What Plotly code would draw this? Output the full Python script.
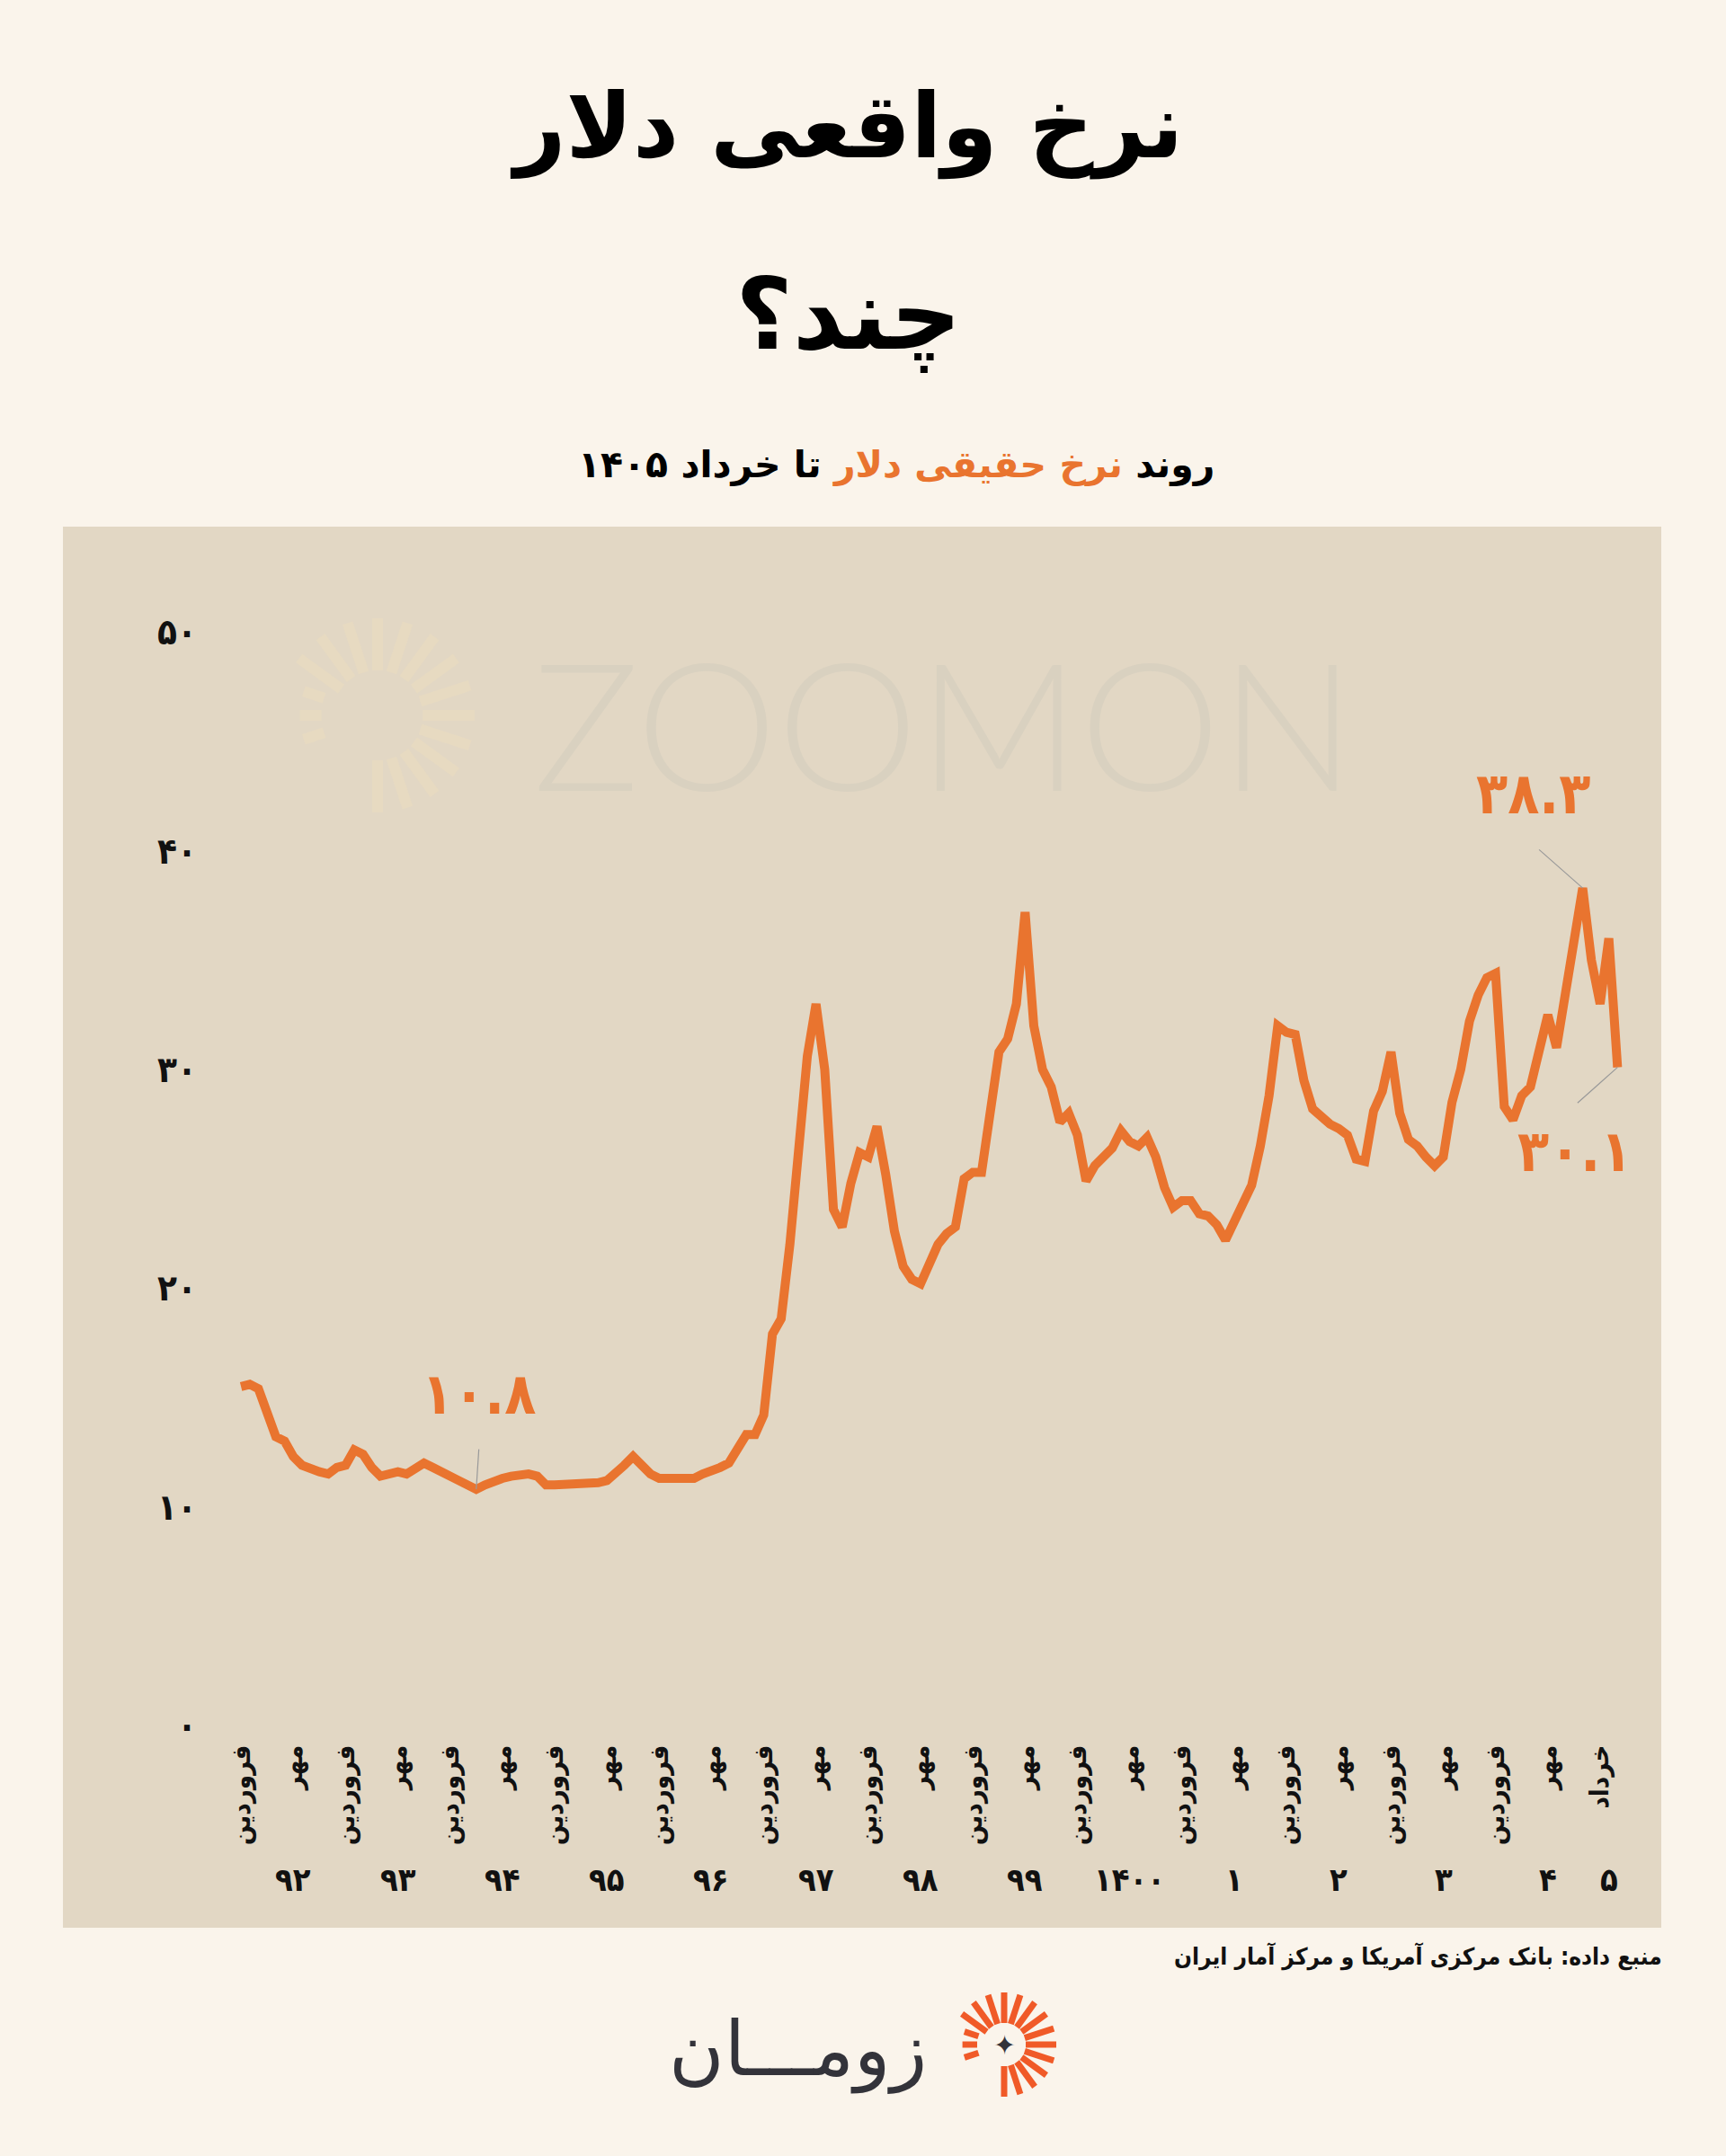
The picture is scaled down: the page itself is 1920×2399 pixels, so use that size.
import math
import plotly.graph_objects as go

# ---------------- data ----------------
months = list(range(159))  # فروردین ۹۲ ... خرداد ۱۴۰۵
values = [
    15.5, 15.6, 15.4, 14.4, 13.2, 13.0, 12.3, 11.9, 11.7, 11.6,
    11.5, 11.8, 11.9, 12.6, 12.4, 11.8, 11.4, 11.5, 11.6, 11.5,
    11.7, 12.0, 11.8, 11.6, 11.4, 11.3, 11.1, 10.8, 11.0, 11.2,
    11.3, 11.4, 11.5, 11.5, 11.4, 11.0, 11.0, 11.0, 11.0, 11.0,
    11.0, 11.1, 11.2, 11.5, 11.9, 12.3, 11.9, 11.5, 11.3, 11.3,
    11.2, 11.2, 11.3, 11.5, 11.6, 11.8, 12.0, 12.6, 13.3, 13.3,
    14.2, 17.9, 18.6, 22.0, 26.2, 30.6, 33.0, 30.0, 23.6, 22.8,
    24.8, 26.2, 26.0, 27.4, 25.2, 22.6, 21.0, 20.4, 20.2, 21.0,
    22.0, 22.5, 22.8, 25.0, 25.3, 25.3, 27.8, 30.8, 31.4, 33.0,
    37.2, 32.0, 30.0, 29.2, 27.6, 28.0, 27.0, 24.9, 25.6, 26.0,
    26.4, 27.2, 26.7, 26.5, 26.9, 26.0, 24.6, 23.7, 24.0, 24.0,
    23.4, 23.3, 22.9, 22.2, 23.0, 23.7, 24.7, 26.5, 28.8, 32.0,
    31.7, 31.6, 29.5, 28.2, 27.8, 27.5, 27.3, 27.0, 25.9, 25.8,
    28.1, 29.0, 30.8, 28.0, 26.8, 26.5, 26.0, 25.6, 26.0, 28.5,
    30.0, 32.2, 33.4, 34.2, 34.4, 28.3, 27.7, 28.8, 29.2, 31.0,
    32.5, 31.0, 33.4, 35.5, 38.3, 35.0, 33.0, 36.0, 30.1,
]

y_tickvals = [0, 10, 20, 30, 40, 50]
x_tickvals = list(range(0, 156, 6)) + [156]
x_ticktext = ['فروردین' if i % 2 == 0 else 'مهر' for i in range(26)] + ['خرداد']
year_positions = [6, 18, 30, 42, 54, 66, 78, 90, 102, 114, 126, 138, 150, 157]
year_labels = ['92', '93', '94', '95', '96', '97', '98', '99', '1400', '1', '2', '3', '4', '5']

# annotated points: (month index, label offset x, offset y, leader ax, ay)
callouts = [
    (27, 3, 106, 3, -46),
    (154, -55, 105, -50, -44),
    (158, -48, -93, -46, 41),
]

title_1 = 'نرخ واقعی دلار'
title_2 = 'چند؟'
subtitle_parts = ['روند ', 'نرخ حقیقی دلار', ' تا خرداد 1405']
source_text = 'منبع داده: بانک مرکزی آمریکا و مرکز آمار ایران'
brand_text = 'زومـــان'
watermark_text = 'ZOOMON'

# ---------------- styling ----------------
W, H = 1920, 2399
L, R, T, B = 240, 110, 620, 464
PW, PH = W - L - R, H - T - B

PAGE = '#FAF4EB'
PANEL = '#E2D7C4'
ORANGE = '#E9742F'
FONT = 'DejaVu Sans Condensed, DejaVu Sans, sans-serif'

fa_map = str.maketrans('0123456789', '۰۱۲۳۴۵۶۷۸۹')


def fa(s):
    return str(s).translate(fa_map)


def px(X, Y):
    return (X - L) / PW, (T + PH - Y) / PH


fig = go.Figure()
fig.add_trace(go.Scatter(
    x=months, y=values, mode='lines',
    line=dict(color=ORANGE, width=10),
    hoverinfo='skip', showlegend=False,
))

shapes = []
x0, y0 = px(70, 586)
x1, y1 = px(1848, 2145)
shapes.append(dict(type='rect', xref='paper', yref='paper', x0=x0, y0=y0, x1=x1, y1=y1,
                   fillcolor=PANEL, line=dict(width=0), layer='below'))


def sun(cx, cy, r_in, r_out, color, width, skip=(200, 255), n=20, layer='below'):
    out = []
    for k in range(n):
        ang = 90 - k * 360.0 / n
        a = ang % 360
        if skip[0] <= a <= skip[1]:
            continue
        ro = r_out * (0.8 if 150 < a < 200 else 1.0)
        ri = r_in * (1.25 if 150 < a < 200 else 1.0)
        ca, sa = math.cos(math.radians(ang)), math.sin(math.radians(ang))
        xa, ya = px(cx + ri * ca, cy - ri * sa)
        xb, yb = px(cx + ro * ca, cy - ro * sa)
        out.append(dict(type='line', xref='paper', yref='paper', x0=xa, y0=ya, x1=xb, y1=yb,
                        line=dict(color=color, width=width), layer=layer))
    return out


shapes += sun(420, 796, 50, 108, '#E7DAC1', 12)
shapes += sun(1117, 2275, 24, 58, '#F05A28', 7, layer='above')

annotations = []


def ann(X, Y, text, size, color='#111111', xanchor='center', weight='bold', family=FONT):
    x, y = px(X, Y)
    annotations.append(dict(xref='paper', yref='paper', x=x, y=y, text=text, showarrow=False,
                            xanchor=xanchor, yanchor='middle',
                            font=dict(family=family, size=size, color=color, weight=weight)))


ann(941, 141, title_1, 100, color='#000000', family='DejaVu Sans, sans-serif')
ann(944, 350, title_2, 110, color='#000000', family='DejaVu Sans, sans-serif')
sub = (subtitle_parts[0] + '<span style="color:%s">' % ORANGE + subtitle_parts[1] + '</span>'
       + fa(subtitle_parts[2]))
ann(997, 517, sub, 41, color='#000000', family='DejaVu Sans, sans-serif')
ann(1851, 2177, source_text, 26, xanchor='right')
ann(1050, 803, watermark_text, 198, color='#D9D1C0', weight=300, family='Lato, sans-serif')
ann(887, 2280, brand_text, 84, color='#33333A', weight='normal', family='DejaVu Sans, sans-serif')
ann(1117, 2275, '✦', 30, color='#33333A', weight='normal', family='DejaVu Sans, sans-serif')

for m, lbl in zip(year_positions, year_labels):
    _, yy = px(0, 2114)
    annotations.append(dict(xref='x', yref='paper', x=m, y=yy, text=fa(lbl), showarrow=False,
                            font=dict(family=FONT, size=36, color='#111111', weight='bold')))

for m, dx, dy, ax, ay in callouts:
    v = values[m]
    annotations.append(dict(xref='x', yref='y', x=m, y=v, text='', showarrow=True,
                            arrowhead=0, arrowwidth=1.2, arrowcolor='#9A9A9A', ax=ax, ay=ay,
                            standoff=0))
    annotations.append(dict(xref='x', yref='y', x=m, y=v, text=fa(f'{v:.1f}'), showarrow=False,
                            xshift=dx, yshift=dy,
                            font=dict(family=FONT, size=64, color=ORANGE, weight='bold')))

fig.update_layout(
    width=W, height=H,
    margin=dict(l=L, r=R, t=T, b=B, pad=0),
    paper_bgcolor=PAGE, plot_bgcolor='rgba(0,0,0,0)',
    shapes=shapes, annotations=annotations,
    showlegend=False,
    xaxis=dict(range=[-2.9, 159.1], tickvals=x_tickvals, ticktext=x_ticktext, tickangle=-90,
               showgrid=False, zeroline=False, showline=False, ticks='',
               tickfont=dict(family=FONT, size=29, color='#111111', weight='bold'),
               fixedrange=True),
    yaxis=dict(range=[-0.62, 53.43], tickvals=y_tickvals, ticktext=[fa(v) for v in y_tickvals],
               showgrid=False, zeroline=False, showline=False, ticks='',
               tickfont=dict(family=FONT, size=40, color='#111111', weight='bold'),
               ticklabelstandoff=20, fixedrange=True),
)

fig.write_html('out.html', config={'displayModeBar': False})
